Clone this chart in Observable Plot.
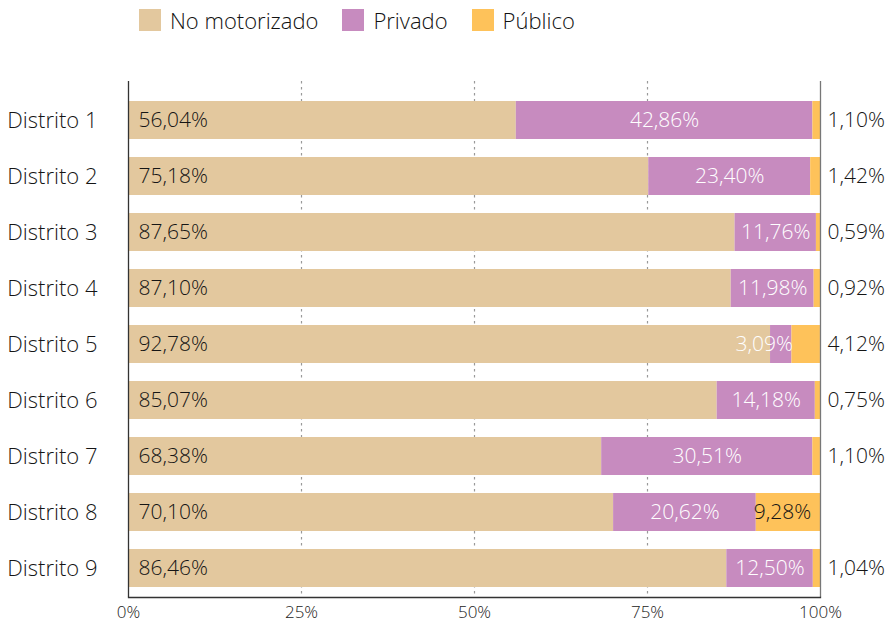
<!DOCTYPE html>
<html>
<head>
<meta charset="utf-8">
<script src="https://cdn.jsdelivr.net/npm/d3@7"></script>
<script src="https://cdn.jsdelivr.net/npm/@observablehq/plot@0.6"></script>
<style>
  html, body { margin: 0; padding: 0; background: #fff; }
  body { width: 894px; height: 623px; overflow: hidden; font-family: "Open Sans", sans-serif; font-weight: 300; }
  #legend { height: 40px; display: flex; align-items: flex-start; padding-left: 139px; box-sizing: border-box; padding-top: 9px; }
  .item { display: flex; align-items: center; margin-right: 24px; font-size: 22px; color: #111; line-height: 22px; }
  .sw { width: 22px; height: 22px; margin-right: 9px; }
  svg { display: block; }
</style>
</head>
<body>
<div id="legend"></div>
<div id="chart"></div>
<script>
const districts = ["Distrito 1","Distrito 2","Distrito 3","Distrito 4","Distrito 5","Distrito 6","Distrito 7","Distrito 8","Distrito 9"];
const modes = ["No motorizado","Privado","Público"];
const colors = ["#E3C89E","#C78BBF","#FEC25A"];
const noMotorizado = [56.04, 75.18, 87.65, 87.10, 92.78, 85.07, 68.38, 70.10, 86.46];
const privado      = [42.86, 23.40, 11.76, 11.98, 3.09, 14.18, 30.51, 20.62, 12.50];
const publico      = [1.10, 1.42, 0.59, 0.92, 4.12, 0.75, 1.10, 9.28, 1.04];
const xTicks = [0, 25, 50, 75, 100];

const fmt = v => v.toFixed(2).replace(".", ",") + "%";

// legend
const legend = document.getElementById("legend");
modes.forEach((m, i) => {
  const it = document.createElement("div");
  it.className = "item";
  it.innerHTML = `<span class="sw" style="background:${colors[i]}"></span><span>${m}</span>`;
  legend.appendChild(it);
});

const table = [];
districts.forEach((d, i) => {
  table.push({district: d, mode: modes[0], value: noMotorizado[i]});
  table.push({district: d, mode: modes[1], value: privado[i]});
  table.push({district: d, mode: modes[2], value: publico[i]});
});

const rows = districts.map((d, i) => ({
  district: d, no: noMotorizado[i], pr: privado[i], pu: publico[i]
}));

const pubInside = rows.filter(r => r.pu > 5);
const pubOutside = rows.filter(r => r.pu <= 5);
const prWide = rows.filter(r => r.pr > 6);
const prNarrow = rows.filter(r => r.pr <= 6);

const font = "Open Sans, sans-serif";
const dark = "#151515";

const chart = Plot.plot({
  width: 894,
  height: 583,
  marginLeft: 128,
  marginRight: 74,
  marginTop: 41,
  marginBottom: 26,
  style: {fontFamily: font, background: "#fff", fontWeight: 300},
  x: {domain: [0, 100], ticks: xTicks, label: null},
  y: {domain: districts, paddingInner: 0.32, paddingOuter: 0.26, align: 0.68, label: null},
  color: {domain: modes, range: colors},
  marks: [
    Plot.gridX(xTicks.filter(t => t > 0 && t < 100), {stroke: "#999", strokeOpacity: 1, strokeDasharray: "2.5,3.5", strokeWidth: 1.2}),
    Plot.barX(table, Plot.stackX({x: "value", y: "district", fill: "mode", order: modes})),
    Plot.ruleX([0], {stroke: "#333", strokeWidth: 1.3}),
    Plot.ruleX([100], {stroke: "#777", strokeWidth: 1.3}),
    Plot.frame({anchor: "bottom", stroke: "#333", strokeWidth: 1.3}),
    Plot.axisX({ticks: xTicks, tickSize: 0, tickPadding: 8, fontSize: 17, fill: "#222", tickFormat: d => d + "%", label: null}),
    Plot.axisY({tickSize: 0, tickPadding: 31, fontSize: 22, fill: dark, label: null}),
    Plot.text(rows, {x: () => 0, y: "district", text: r => fmt(r.no), dx: 10, textAnchor: "start", fontSize: 21, fill: dark}),
    Plot.text(prWide, {x: r => r.no + r.pr / 2, y: "district", text: r => fmt(r.pr), fontSize: 21, fill: "#fff"}),
    Plot.text(prNarrow, {x: r => r.no + r.pr, y: "district", text: r => fmt(r.pr), dx: 1, textAnchor: "end", fontSize: 21, fill: "#fff"}),
    Plot.text(pubOutside, {x: () => 100, y: "district", text: r => fmt(r.pu), dx: 7, textAnchor: "start", fontSize: 21, fill: dark}),
    Plot.text(pubInside, {x: r => 100 - r.pu / 2, y: "district", text: r => fmt(r.pu), dx: -6, fontSize: 21, fill: dark})
  ]
});
document.getElementById("chart").appendChild(chart);
</script>
</body>
</html>
